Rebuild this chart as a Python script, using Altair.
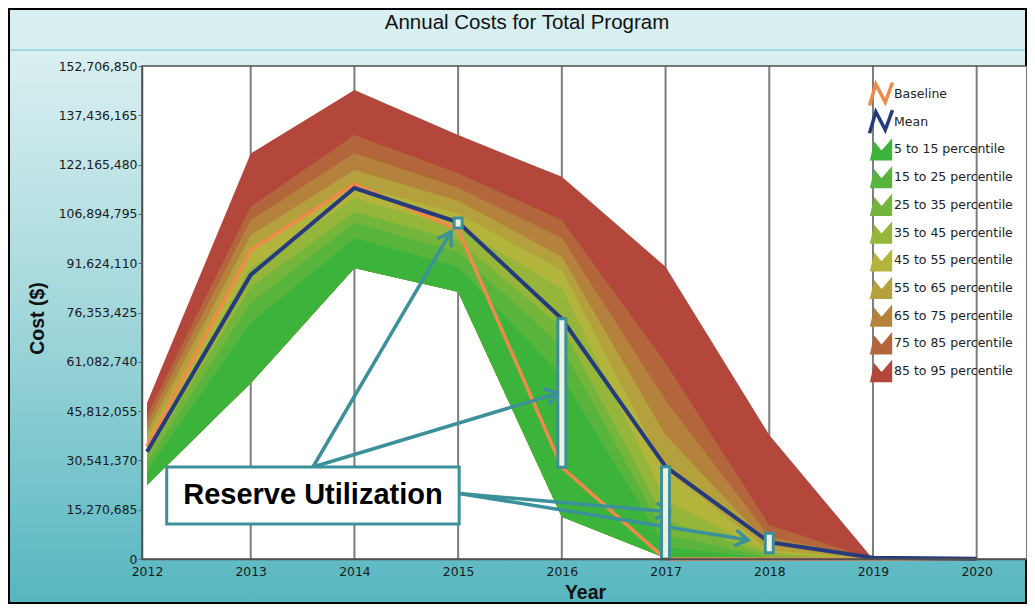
import math
import altair as alt
import pandas as pd

# ---------------- data (cost values in millions of $) ----------------
years = [2012, 2013, 2014, 2015, 2016, 2017, 2018, 2019, 2020]
p05 = [22.9, 54.5, 90.1, 82.8, 13.1, 0.3, 0.0, 0.0, 0.0]
p15 = [27.3, 73.1, 99.4, 90.5, 56.5, 3.7, 0.3, 0.0, 0.0]
p25 = [29.7, 79.3, 104.1, 95.0, 65.7, 7.4, 0.6, 0.0, 0.0]
p35 = [31.9, 84.2, 107.5, 98.5, 71.9, 12.1, 1.2, 0.0, 0.0]
p45 = [34.1, 90.4, 111.8, 102.5, 83.9, 18.3, 1.9, 0.0, 0.0]
p55 = [37.2, 96.6, 115.8, 107.0, 89.5, 27.6, 2.8, 0.0, 0.0]
p65 = [39.6, 100.3, 120.5, 111.0, 93.6, 38.4, 4.3, 0.0, 0.0]
p75 = [42.1, 105.0, 125.7, 115.0, 99.4, 49.2, 6.9, 0.0, 0.0]
p85 = [44.6, 109.1, 131.3, 119.5, 105.0, 60.7, 10.5, 0.0, 0.0]
p95 = [48.3, 125.6, 145.3, 131.3, 118.4, 90.5, 38.4, 0.0, 0.0]
baseline = [34.8, 95.7, 116.1, 102.0, 28.4, 0.0, 0.0, 0.0, 0.0]
mean = [33.2, 88.0, 114.9, 104.3, 74.4, 28.6, 5.2, 0.4, 0.1]

band_labels = ["5 to 15 percentile", "15 to 25 percentile", "25 to 35 percentile",
               "35 to 45 percentile", "45 to 55 percentile", "55 to 65 percentile",
               "65 to 75 percentile", "75 to 85 percentile", "85 to 95 percentile"]
band_colors = ["#3cb43c", "#58b43c", "#74b53b", "#95b53b", "#b3b43c",
               "#b4a03c", "#b4823c", "#b3663c", "#b3473b"]

y_ticks = [15270685 * k for k in range(11)]

reserve_years = [2015, 2016, 2017, 2018]
reserve_lo = [102.5, 28.4, 0.0, 1.9]
reserve_hi = [105.6, 74.4, 28.6, 8.0]

# annotation (year, $M)
box_x = [2012.19, 2015.01]
box_y = [10.84, 28.5]
arrow_x0 = [2013.60, 2013.60, 2015.01, 2015.01]
arrow_y0 = [28.5, 28.5, 20.3, 20.3]
arrow_x1 = [2014.93, 2015.966, 2017.033, 2017.796]
arrow_y1 = [101.3, 51.4, 14.65, 5.9]

BASE_C = "#f08a4b"
MEAN_C = "#263b7e"
TEAL = "#3c9099"

# ---------------- layout ----------------
W, H = 885, 493
XMAX = 2020.437
YMAX = 152706850
xs = alt.Scale(domain=[2012, XMAX], nice=False, zero=False)
ys = alt.Scale(domain=[0, YMAX], nice=False, zero=False)
M = 1e6

one = pd.DataFrame({"a": [0]})

grad = alt.LinearGradient(
    gradient="linear",
    stops=[alt.GradientStop(color="#e3f3f4", offset=0),
           alt.GradientStop(color="#a4d8dc", offset=0.5),
           alt.GradientStop(color="#56b6c0", offset=1)],
    x1=0, x2=0, y1=0, y2=1)

xaxis = alt.Axis(values=years, format="d", title="Year", labelFlush=False, ticks=False,
                 grid=False, labelPadding=6, domainColor="#505050", domainWidth=1.5,
                 labelFont="DejaVu Sans", labelFontSize=12.4, labelColor="#1a1a1a",
                 titleFont="Liberation Sans", titleFontSize=19.5, titleFontWeight="bold",
                 titleColor="#111111", titleX=443, titleY=33, titleBaseline="middle",
                 titleAlign="center", zindex=1, labelOverlap=False)
yaxis = alt.Axis(values=y_ticks, format=",d", title="Cost ($)", grid=False, tickSize=4,
                 tickColor="#666666", labelPadding=1, domainColor="#505050", domainWidth=1.5,
                 labelFont="DejaVu Sans", labelFontSize=12.4, labelColor="#1a1a1a",
                 titleFont="Liberation Sans", titleFontSize=19.5, titleFontWeight="bold",
                 titleColor="#111111", titleX=-105, titleY=252, titleAngle=270,
                 titleAlign="center", titleBaseline="middle", zindex=1, labelOverlap=False)


def X(field):
    return alt.X(field, scale=xs, axis=xaxis)


def Y(field):
    return alt.Y(field, scale=ys, axis=yaxis)


bg = alt.Chart(one).mark_rect(fill=grad, stroke="black", strokeWidth=2).encode(
    x=alt.value(-133), x2=alt.value(W - 1), y=alt.value(-57), y2=alt.value(H + 44))
titleband = alt.Chart(one).mark_rect(fill="#d7eff1").encode(
    x=alt.value(-132), x2=alt.value(W - 2), y=alt.value(-56), y2=alt.value(-16))
titleline = alt.Chart(one).mark_rule(color="#a6d7db", strokeWidth=2).encode(
    x=alt.value(-132), x2=alt.value(W - 2), y=alt.value(-16))
plotbg = alt.Chart(one).mark_rect(fill="white").encode(
    x=alt.value(0), x2=alt.value(W), y=alt.value(0), y2=alt.value(H))

grid = alt.Chart(pd.DataFrame({"year": years[1:]})).mark_rule(
    color="#7d7d7d", strokeWidth=2).encode(
    x=X("year:Q"), y=alt.value(0), y2=alt.value(H))

P = [p05, p15, p25, p35, p45, p55, p65, p75, p85, p95]
band_layers = []
for k in range(8, -1, -1):
    df = pd.DataFrame({"year": years, "lo": [v * M for v in p05],
                       "hi": [v * M for v in P[k + 1]]})
    band_layers.append(
        alt.Chart(df).mark_area(color=band_colors[k], opacity=1, interpolate="linear").encode(
            x=X("year:Q"), y=Y("lo:Q"), y2="hi:Q"))

base_line = alt.Chart(pd.DataFrame({"year": years, "v": [v * M for v in baseline]})).mark_line(
    color=BASE_C, strokeWidth=3.5).encode(x=X("year:Q"), y=Y("v:Q"))
mean_line = alt.Chart(pd.DataFrame({"year": years, "v": [v * M for v in mean]})).mark_line(
    color=MEAN_C, strokeWidth=4).encode(x=X("year:Q"), y=Y("v:Q"))

res_df = pd.DataFrame({"year": reserve_years, "lo": [v * M for v in reserve_lo],
                       "hi": [v * M for v in reserve_hi]})
reserve = alt.Chart(res_df).mark_bar(size=8, fill="#eaf3e3", stroke=TEAL, strokeWidth=3).encode(
    x=X("year:Q"), y=Y("lo:Q"), y2="hi:Q")

# arrows
sx = W / (XMAX - 2012)
sy = H / YMAX
angs = []
for x0, y0, x1, y1 in zip(arrow_x0, arrow_y0, arrow_x1, arrow_y1):
    dx = (x1 - x0) * sx
    dy = -(y1 - y0) * M * sy
    angs.append(math.degrees(math.atan2(dy, dx)) % 360)
arr_df = pd.DataFrame({"x0": arrow_x0, "y0": [v * M for v in arrow_y0],
                       "x1": arrow_x1, "y1": [v * M for v in arrow_y1], "ang": angs})
arrow_lines = alt.Chart(arr_df).mark_rule(color=TEAL, strokeWidth=3.5).encode(
    x=X("x0:Q"), y=Y("y0:Q"), x2="x1:Q", y2="y1:Q")
CHEV = "M -1 -0.62 L 0 0 L -1 0.62"
arrow_heads = alt.Chart(arr_df).mark_point(shape=CHEV, filled=False, color=TEAL, opacity=1,
                                           strokeWidth=3.5, size=676).encode(
    x=X("x1:Q"), y=Y("y1:Q"), angle=alt.Angle("ang:Q", scale=None))

box_df = pd.DataFrame({"x0": [box_x[0]], "x1": [box_x[1]],
                       "y0": [box_y[0] * M], "y1": [box_y[1] * M],
                       "xc": [(box_x[0] + box_x[1]) / 2],
                       "yc": [(box_y[0] + box_y[1]) / 2 * M],
                       "t": ["Reserve Utilization"]})
box = alt.Chart(box_df).mark_rect(fill="white", stroke=TEAL, strokeWidth=3).encode(
    x=X("x0:Q"), x2="x1:Q", y=Y("y0:Q"), y2="y1:Q")
box_text = alt.Chart(box_df).mark_text(font="Liberation Sans", fontSize=29, fontWeight="bold",
                                       color="#000000", align="center", baseline="middle").encode(
    x=X("xc:Q"), y=Y("yc:Q"), text="t:N")

frame = alt.Chart(one).mark_rect(fill="transparent", stroke="#505050", strokeWidth=1.5).encode(
    x=alt.value(0), x2=alt.value(W), y=alt.value(0), y2=alt.value(H))

title = alt.Chart(one).mark_text(text="Annual Costs for Total Program", font="Liberation Sans",
                                 fontSize=20.5, color="#111111", align="center",
                                 baseline="middle").encode(x=alt.value(385), y=alt.value(-43))

# custom legend
ROW0, ROWSTEP, ICON_X, TEXT_X = 28, 27.7, 739, 752
leg_labels = ["Baseline", "Mean"] + band_labels
leg_df = pd.DataFrame({"label": leg_labels,
                       "py": [ROW0 + ROWSTEP * i for i in range(len(leg_labels))],
                       "col": [BASE_C, MEAN_C] + band_colors,
                       "kind": ["line", "line"] + ["area"] * 9})
NPATH = "M -1 1 L -0.45 -0.86 L 0.37 0.71 L 1 -1"
MPATH = "M -1 1 L -0.6 -0.7 L 0.05 0.1 L 1 -1 L 1 1 Z"
leg_lines = alt.Chart(leg_df).transform_filter("datum.kind == 'line'").mark_point(
    shape=NPATH, filled=False, opacity=1, strokeWidth=3.5, size=529).encode(
    x=alt.value(ICON_X), y=alt.Y("py:Q", scale=None, axis=None),
    color=alt.Color("col:N", scale=None))
leg_areas = alt.Chart(leg_df).transform_filter("datum.kind == 'area'").mark_point(
    shape=MPATH, filled=True, opacity=1, size=500).encode(
    x=alt.value(ICON_X), y=alt.Y("py:Q", scale=None, axis=None),
    color=alt.Color("col:N", scale=None))
leg_text = alt.Chart(leg_df).mark_text(font="DejaVu Sans", fontSize=12.5, color="#222222",
                                       align="left", baseline="middle").encode(
    x=alt.value(TEXT_X), y=alt.Y("py:Q", scale=None, axis=None), text="label:N")

chart = alt.layer(
    bg, titleband, titleline, plotbg, grid, *band_layers, base_line, mean_line,
    arrow_lines, arrow_heads, reserve, box, box_text, frame, title,
    leg_lines, leg_areas, leg_text
).properties(
    width=W, height=H,
    padding={"left": 134, "top": 58, "right": 0, "bottom": 45},
    autosize=alt.AutoSizeParams(type="none"),
).configure_view(stroke=None)

chart.save("out.html", embed_options={"renderer": "svg", "actions": False})
